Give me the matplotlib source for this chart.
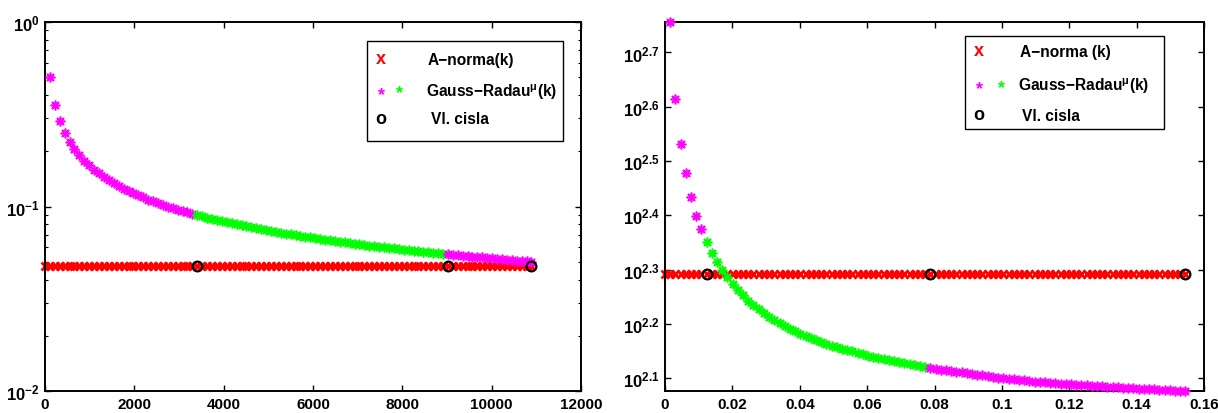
import numpy as np
import matplotlib
matplotlib.use('Agg')
import matplotlib.pyplot as plt
from matplotlib.patches import Rectangle
from matplotlib.ticker import FixedLocator, FixedFormatter, LogLocator, NullLocator, NullFormatter

# ---- data ----
# left panel: iteration k (x = iterations), right panel: x in [0, 0.16]
left_x = np.arange(0, 100) * 110          # k = 0..99
left_anorm = 0.0478
left_gr = [0.500, 0.354, 0.289, 0.250, 0.224, 0.204, 0.189, 0.177, 0.167, 0.158,
           0.151, 0.144, 0.139, 0.134, 0.129, 0.125, 0.121, 0.118, 0.115, 0.112,
           0.109, 0.107, 0.104, 0.102, 0.100, 0.098, 0.096, 0.0945, 0.0928, 0.0913,
           0.0898, 0.0884, 0.0870, 0.0857, 0.0845, 0.0833, 0.0822, 0.0811, 0.0801, 0.0791,
           0.0781, 0.0772, 0.0762, 0.0754, 0.0745, 0.0737, 0.0729, 0.0722, 0.0714, 0.0707,
           0.0700, 0.0693, 0.0687, 0.0680, 0.0674, 0.0668, 0.0662, 0.0657, 0.0651, 0.0645,
           0.0640, 0.0635, 0.0630, 0.0625, 0.0620, 0.0615, 0.0611, 0.0606, 0.0602, 0.0598,
           0.0593, 0.0589, 0.0585, 0.0581, 0.0577, 0.0574, 0.0570, 0.0566, 0.0563, 0.0559,
           0.0556, 0.0552, 0.0549, 0.0546, 0.0542, 0.0539, 0.0536, 0.0533, 0.0530, 0.0527,
           0.0524, 0.0521, 0.0518, 0.0516, 0.0513, 0.0510, 0.0508, 0.0505, 0.0503]
left_circles = [31, 82, 99]               # indices k of "Vl. cisla"

right_x = np.arange(0, 101) * 0.001545    # k = 0..100
right_anorm = 195.9
right_gr = [571, 411, 340, 300, 272, 251, 237, 224, 214.5, 206,
            199.5, 193, 188, 183, 179, 175, 172, 168.5, 166, 163.4,
            161, 159, 157, 155, 153.5, 152, 150.5, 149, 148, 146.8,
            145.7, 144.6, 143.6, 142.7, 141.8, 141, 140.2, 139.4, 138.6, 137.9,
            137.2, 136.5, 135.9, 135.3, 134.7, 134.1, 133.5, 133, 132.5, 132,
            131.5, 131, 130.6, 130.2, 129.8, 129.4, 129, 128.6, 128.2, 127.8,
            127.4, 127, 126.6, 126.2, 125.9, 125.6, 125.3, 125, 124.7, 124.4,
            124.1, 123.9, 123.7, 123.5, 123.3, 123.1, 122.9, 122.7, 122.5, 122.3,
            122.1, 121.9, 121.7, 121.6, 121.4, 121.3, 121.1, 121, 120.8, 120.7,
            120.5, 120.4, 120.2, 120.1, 119.9, 119.8, 119.6, 119.5, 119.3, 119.1]
right_circles = [8, 51, 100]

left_xticks = [0, 2000, 4000, 6000, 8000, 10000, 12000]
left_yticks = [1e-2, 1e-1, 1e0]
left_ylabels = [r'$10^{-2}$', r'$10^{-1}$', r'$10^{0}$']
right_xticks = [0, 0.02, 0.04, 0.06, 0.08, 0.1, 0.12, 0.14, 0.16]
right_xlabels = ['0', '0.02', '0.04', '0.06', '0.08', '0.1', '0.12', '0.14', '0.16']
right_yexp = [2.1, 2.2, 2.3, 2.4, 2.5, 2.6, 2.7]
right_ylabels = [r'$10^{2.1}$', r'$10^{2.2}$', r'$10^{2.3}$', r'$10^{2.4}$',
                 r'$10^{2.5}$', r'$10^{2.6}$', r'$10^{2.7}$']

# ---- style ----
plt.rcParams['font.family'] = 'Liberation Sans'
plt.rcParams['font.weight'] = 'bold'
plt.rcParams['font.size'] = 11
plt.rcParams['mathtext.fontset'] = 'custom'
plt.rcParams['mathtext.rm'] = 'Liberation Sans:bold'
plt.rcParams['mathtext.it'] = 'Liberation Sans:bold'
plt.rcParams['mathtext.bf'] = 'Liberation Sans:bold'

W, H = 1218, 414
fig = plt.figure(figsize=(W / 100, H / 100), dpi=100)
fig.patch.set_facecolor('white')

def fx(px):
    return px / W

def fy(py):
    return 1 - py / H

ax1 = fig.add_axes([fx(45), fy(392.3), (581 - 45) / W, (392.3 - 22.7) / H])
ax2 = fig.add_axes([fx(665), fy(392.3), (1204 - 665) / W, (392.3 - 22.7) / H])

star = (8, 2, 0)
MAG = (1, 0, 1)
GRN = (0, 1, 0)


def draw_panel(ax, x, anorm, gr, circles):
    gr = np.asarray(gr)
    ax.plot(x, np.full(len(x), anorm), ls='none', marker='x', color='red',
            ms=5.5, mew=2.0, clip_on=False, zorder=2)
    xs = x[1:]
    c1, c2 = circles[0], circles[1]
    # colour pieces: magenta | green | magenta, switching at the circles
    kw = dict(ls='none', marker=star, ms=7, mew=1.2, clip_on=False, zorder=3)
    ax.plot(xs[:c1 - 1], gr[:c1 - 1], color=MAG, **kw)
    ax.plot(xs[c1 - 1:c2 - 1], gr[c1 - 1:c2 - 1], color=GRN, **kw)
    ax.plot(xs[c2 - 1:], gr[c2 - 1:], color=MAG, **kw)
    ax.plot(x[circles], np.full(len(circles), anorm), ls='none', marker='o',
            mfc='none', mec='black', ms=7, mew=1.6, clip_on=False, zorder=4)
    ax.set_yscale('log')
    ax.tick_params(which='both', direction='in', top=True, right=True, pad=4)
    ax.tick_params(axis='x', labelsize=11)
    ax.tick_params(axis='y', labelsize=12)
    ax.tick_params(which='major', length=4, width=1)
    ax.tick_params(which='minor', length=2, width=0.8)
    for s in ax.spines.values():
        s.set_linewidth(1.4)


draw_panel(ax1, left_x, left_anorm, left_gr, left_circles)
ax1.set_xlim(0, 12000)
ax1.set_ylim(1e-2, 1e0)
ax1.set_xticks(left_xticks)
ax1.set_xticklabels([str(t) for t in left_xticks])
ax1.yaxis.set_major_locator(FixedLocator(left_yticks))
ax1.yaxis.set_major_formatter(FixedFormatter(left_ylabels))
ax1.yaxis.set_minor_locator(LogLocator(base=10, subs=np.arange(2, 10)))
ax1.yaxis.set_minor_formatter(NullFormatter())

draw_panel(ax2, right_x, right_anorm, right_gr, right_circles)
ax2.set_xlim(0, 0.16)
ax2.set_ylim(min(right_gr), max(right_gr))
ax2.set_xticks(right_xticks)
ax2.set_xticklabels(right_xlabels)
ax2.yaxis.set_major_locator(FixedLocator([10 ** e for e in right_yexp]))
ax2.yaxis.set_major_formatter(FixedFormatter(right_ylabels))
ax2.yaxis.set_minor_locator(NullLocator())


def draw_legend(box, rows):
    x0, y0, x1, y1 = box
    fig.add_artist(Rectangle((fx(x0), fy(y1)), (x1 - x0) / W, (y1 - y0) / H,
                             transform=fig.transFigure, facecolor='white',
                             edgecolor='black', lw=1.0, zorder=5))
    for syms, tx, ty, label in rows:
        for sx, sy, ch, col in syms:
            off = 9.5 if ch == '*' else 4.5
            fig.text(fx(sx), fy(sy + off), ch, color=col, ha='center',
                     va='baseline', fontsize=13, fontweight='bold', zorder=6)
        fig.text(fx(tx), fy(ty + 5.5), label, ha='left', va='baseline',
                 fontsize=11.2, fontweight='bold', zorder=6)


draw_legend((367, 41.7, 563, 141.7), [
    ([(381, 60, 'x', 'red')], 428, 60, 'A\u2212norma(k)'),
    ([(381, 91, '*', MAG), (400, 89, '*', GRN)], 426, 91, 'Gauss\u2212Radau$^{\\mu}$(k)'),
    ([(381, 119, 'o', 'black')], 431, 119, 'Vl. cisla'),
])
draw_legend((965, 37, 1164, 130), [
    ([(979, 52, 'x', 'red')], 1020, 52, 'A\u2212norma (k)'),
    ([(980, 85, '*', MAG), (1002, 84, '*', GRN)], 1018, 85, 'Gauss\u2212Radau$^{\\mu}$(k)'),
    ([(979, 116, 'o', 'black')], 1022, 116, 'Vl. cisla'),
])

fig.savefig('out.png', dpi=100)
